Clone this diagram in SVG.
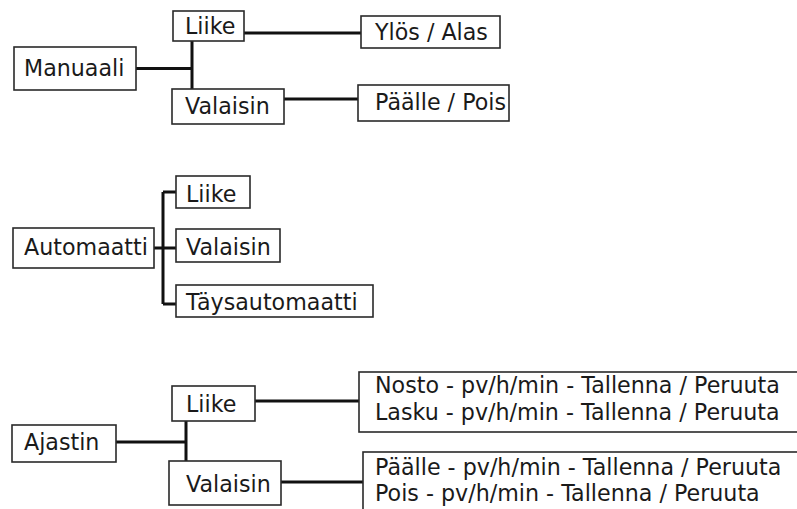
<svg xmlns="http://www.w3.org/2000/svg" width="797" height="509" viewBox="0 0 797 509">
<style>
.b{fill:#fff;stroke:#2a2a2a;stroke-width:1.6}
.t{font-family:"DejaVu Sans",sans-serif;font-size:22.2px;fill:#1a1a1a}
.c{fill:none;stroke:#111;stroke-width:3}
</style>
<rect width="797" height="509" fill="#fff"/>
<g id="connectors">
<path class="c" d="M136 68.5H192M192 41V89M244 33H361M284 99H358"/>
<path class="c" d="M154 248H163M163 192V304M163 192H176M163 248H176M163 304H176"/>
<path class="c" d="M116 442H186M186 421V461M255 401H359M281 482H363"/>
</g>
<g id="manuaali"><rect class="b" x="14" y="47" width="122" height="43"/><text class="t" x="24" y="76">Manuaali</text></g>
<g id="m-liike"><rect class="b" x="173" y="11" width="71" height="30"/><text class="t" x="185" y="34">Liike</text></g>
<g id="m-valaisin"><rect class="b" x="172" y="89" width="112" height="35"/><text class="t" x="185" y="114">Valaisin</text></g>
<g id="m-ylos"><rect class="b" x="361" y="16" width="139" height="32"/><text class="t" x="375" y="40">Ylös / Alas</text></g>
<g id="m-paalle"><rect class="b" x="358" y="85" width="151" height="36"/><text class="t" x="375" y="110">Päälle / Pois</text></g>
<g id="automaatti"><rect class="b" x="13" y="228" width="141" height="40"/><text class="t" x="24" y="255">Automaatti</text></g>
<g id="a-liike"><rect class="b" x="176" y="176" width="74" height="32"/><text class="t" x="186" y="202">Liike</text></g>
<g id="a-valaisin"><rect class="b" x="176" y="229" width="104" height="33"/><text class="t" x="186" y="255">Valaisin</text></g>
<g id="a-taysautomaatti"><rect class="b" x="176" y="285" width="197" height="32"/><text class="t" x="186" y="310">Täysautomaatti</text></g>
<g id="ajastin"><rect class="b" x="12" y="425" width="104" height="37"/><text class="t" x="24" y="450">Ajastin</text></g>
<g id="j-liike"><rect class="b" x="172" y="386" width="83" height="35"/><text class="t" x="186" y="412">Liike</text></g>
<g id="j-valaisin"><rect class="b" x="169" y="461" width="112" height="44"/><text class="t" x="186" y="492">Valaisin</text></g>
<g id="j-liike-opts"><rect class="b" x="359" y="372" width="445" height="60"/><text class="t" x="375" y="393">Nosto - pv/h/min - Tallenna / Peruuta</text><text class="t" x="375" y="420">Lasku - pv/h/min - Tallenna / Peruuta</text></g>
<g id="j-valaisin-opts"><rect class="b" x="363" y="452" width="445" height="70"/><text class="t" x="375" y="475">Päälle - pv/h/min - Tallenna / Peruuta</text><text class="t" x="375" y="501">Pois - pv/h/min - Tallenna / Peruuta</text></g>
</svg>
